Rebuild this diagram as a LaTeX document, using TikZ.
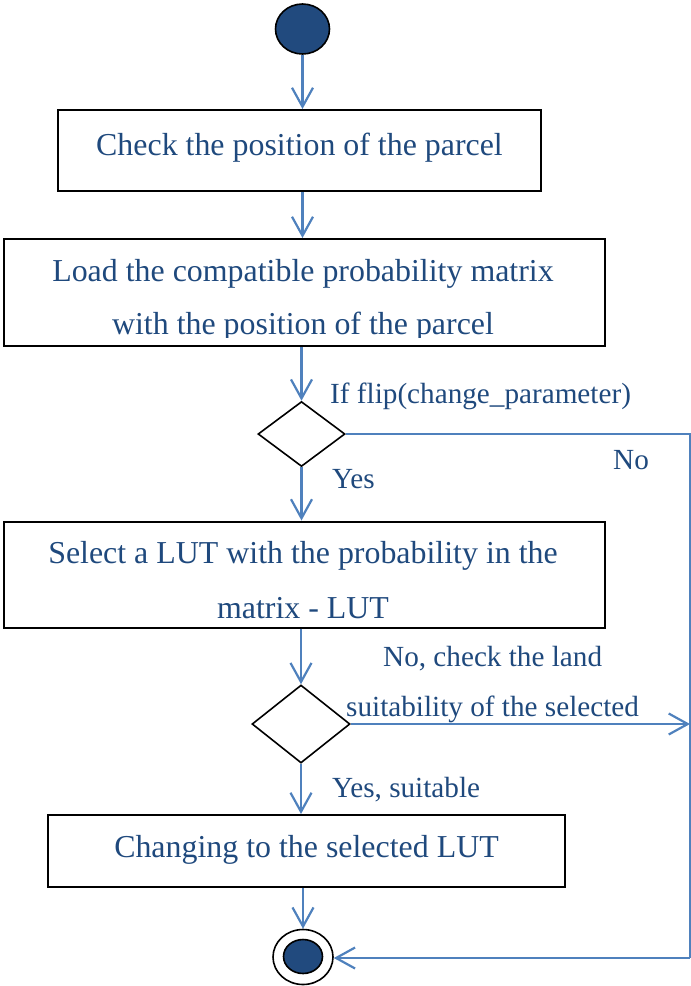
\documentclass[tikz,border=0pt]{standalone}
\usepackage{fontspec}
\setmainfont{Liberation Serif}
\usetikzlibrary{arrows.meta,shapes.geometric}
\definecolor{txtblue}{RGB}{31,73,125}
\definecolor{lnblue}{RGB}{79,129,189}
\definecolor{dotblue}{RGB}{33,74,126}
\tikzset{
  stepbox/.style={draw=black,line width=2pt,rectangle,inner sep=0pt},
  boxtext/.style={text=txtblue,font=\fontsize{31.9pt}{38pt}\selectfont,inner sep=0pt,anchor=base},
  lbl/.style={text=txtblue,font=\fontsize{29.2pt}{34pt}\selectfont,inner sep=0pt,anchor=base west},
  decision/.style={draw=black,line width=1.6pt,diamond,inner sep=0pt},
  arr/.style={draw=lnblue,line width=2.2pt,-{Straight Barb[length=19pt,width=21pt]}},
  ln/.style={draw=lnblue,line width=2.2pt},
}
\begin{document}
\begin{tikzpicture}[x=1pt,y=-1pt]
\useasboundingbox (0,0) rectangle (691,986);
% start
\node[ellipse,draw=black,line width=1.6pt,fill=dotblue,minimum width=54pt,minimum height=50pt,inner sep=0pt] (start) at (302.5,29) {};
% boxes
\node[stepbox,minimum width=483pt,minimum height=81pt] (box1) at (299.5,150.5) {};
\node[boxtext] (t1) at (299.5,155) {Check the position of the parcel};
\node[stepbox,minimum width=601pt,minimum height=107pt] (box2) at (304.5,292.5) {};
\node[boxtext] (t2a) at (303,281) {Load the compatible probability matrix};
\begin{scope}
\clip (4,239) rectangle (605,337);
\node[boxtext] (t2b) at (303,334) {with the position of the parcel};
\end{scope}
\node[decision,minimum width=87pt,minimum height=65pt] (d1) at (301.5,434) {};
\node[stepbox,minimum width=601pt,minimum height=106pt] (box3) at (304.5,574.5) {};
\node[boxtext] (t3a) at (303,563) {Select a LUT with the probability in the};
\node[boxtext] (t3b) at (303,618) {matrix - LUT};
\node[decision,minimum width=98pt,minimum height=78pt] (d2) at (301,724) {};
\node[stepbox,minimum width=517pt,minimum height=72pt] (box4) at (306.5,851) {};
\node[boxtext] (t4) at (306.5,857) {Changing to the selected LUT};
% end
\node[ellipse,draw=black,line width=1.6pt,fill=white,minimum width=60pt,minimum height=55pt,inner sep=0pt] (end) at (303,957) {};
\node[ellipse,draw=black,line width=1.6pt,fill=dotblue,minimum width=39pt,minimum height=34pt,inner sep=0pt] (endin) at (303,956.5) {};
% labels
\node[lbl] (l1) at (330,403) {If flip(change\_parameter)};
\node[lbl] (l2) at (613,469) {No};
\node[lbl] (l3) at (332,488) {Yes};
\node[lbl] (l4) at (383,666) {No, check the land};
\node[lbl] (l5) at (346,716) {suitability of the selected};
\node[lbl] (l6) at (332,797) {Yes, suitable};
% coordinates
\coordinate (rt) at (690,434);
\coordinate (rm) at (690,724);
\coordinate (rb) at (690,958);
% connectors
\draw[arr] (start.south) -- (start |- box1.north);
\draw[arr] (box1.south -| start) -- (box2.north -| start);
\draw[arr] (box2.south -| d1) -- (d1.north);
\draw[arr] (d1.south) -- (box3.north -| d1);
\draw[arr] (box3.south -| d2) -- (d2.north);
\draw[arr] (d2.south) -- (box4.north -| d2);
\draw[arr] (box4.south -| end) -- (end.north);
\draw[ln] (d1.east) -- (rt) -- (rb);
\draw[arr] (rb) -- (rb -| end.east);
\draw[arr] (d2.east) -- (rm);
\end{tikzpicture}
\end{document}
